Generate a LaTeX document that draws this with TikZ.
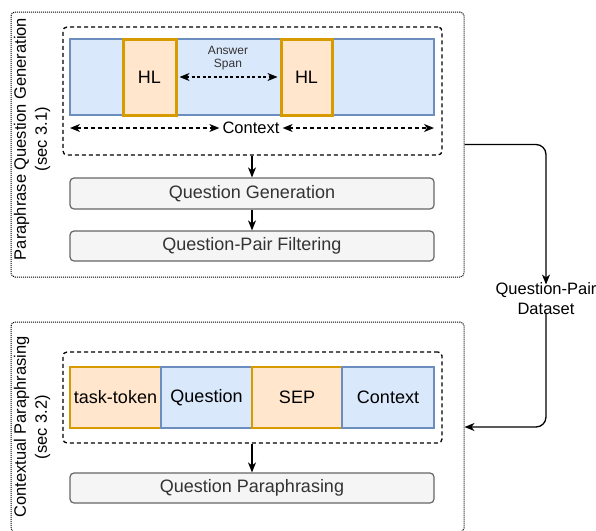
\documentclass[tikz,border=0pt]{standalone}
\usepackage{fontspec}
\setmainfont{Liberation Sans}
\usetikzlibrary{arrows.meta}
\definecolor{bluefill}{HTML}{DAE8FC}
\definecolor{bluedraw}{HTML}{6C8EBF}
\definecolor{orfill}{HTML}{FFE6CC}
\definecolor{ordraw}{HTML}{D79B00}
\definecolor{gfill}{HTML}{F5F5F5}
\definecolor{gdraw}{HTML}{666666}
\definecolor{gtext}{HTML}{333333}
\newcommand{\fs}[1]{\fontsize{#1}{#1}\selectfont}
\tikzset{
  tip/.style={-{Stealth[length=10pt,width=8pt,inset=3pt]}},
  dtip/.style={{Stealth[length=10pt,width=8pt,inset=3pt]}-{Stealth[length=10pt,width=8pt,inset=3pt]}},
  outerbox/.style={draw, line width=1pt, dash pattern=on 1pt off 1pt, rounded corners=4pt, inner sep=0pt},
  groupbox/.style={draw, line width=1.3pt, dash pattern=on 4pt off 3pt, rounded corners=4pt, inner sep=0pt},
  bluebox/.style={draw=bluedraw, fill=bluefill, line width=1.2pt, inner sep=0pt, font=\fs{18}},
  orbox/.style={draw=ordraw, fill=orfill, line width=1.2pt, inner sep=0pt, font=\fs{18}},
  hlbox/.style={draw=ordraw, fill=orfill, line width=3pt, inner sep=0pt, font=\fs{18}},
  procbox/.style={draw=gdraw, fill=gfill, text=gtext, line width=1.2pt, rounded corners=4pt,
    minimum width=364pt, inner sep=0pt, font=\fs{18}},
  sidelabel/.style={rotate=90, align=center, font=\fontsize{16.5}{21}\selectfont, inner sep=0pt},
  conn/.style={line width=1.3pt}
}
\begin{document}
\begin{tikzpicture}[x=1pt,y=-1pt]
\useasboundingbox (0,0) rectangle (596,530);
% outer groups
\node[outerbox, minimum width=453pt, minimum height=265pt] (grp1) at (237.5,144.5) {};
\node[outerbox, minimum width=453pt, minimum height=210pt] (grp2) at (237.5,427) {};
\node[sidelabel] (lab1) at (32,139) {Paraphrase Question Generation\\(sec 3.1)};
\node[sidelabel] (lab2) at (32,427) {Contextual Paraphrasing\\(sec 3.2)};
% top dashed group
\node[groupbox, minimum width=379pt, minimum height=128pt] (dg1) at (252.5,91) {};
\node[bluebox, minimum width=364pt, minimum height=76pt] (ctx) at (252,77) {};
\node[hlbox, minimum width=53pt, minimum height=76pt] (hl1) at (149.5,77) {HL};
\node[hlbox, minimum width=51pt, minimum height=76pt] (hl2) at (306.5,77) {HL};
\node[align=center, font=\fontsize{12}{13}\selectfont, text=gtext, inner sep=0pt] (ans) at (228,58) {Answer\\Span};
\draw[conn, dtip, line width=1.2pt, dash pattern=on 3pt off 2.5pt] (hl1.east) ++(2,0) coordinate (a1) -- ([xshift=-2pt]hl2.west);
\node[font=\fs{16.5}, inner sep=0pt] (ctxlab) at (251,128) {Context};
\coordinate (cl) at (70,128);
\coordinate (cr) at (434,128);
\draw[conn, dtip, dash pattern=on 4pt off 3pt] (cl) -- ([xshift=-3pt]ctxlab.west);
\draw[conn, dtip, dash pattern=on 4pt off 3pt] ([xshift=3pt]ctxlab.east) -- (cr);
% process boxes
\node[procbox, minimum height=31pt] (qg) at (252,193.5) {Question Generation};
\node[procbox, minimum height=30pt] (qpf) at (252,246) {Question-Pair Filtering};
\draw[conn, tip] (dg1.south -| qg.north) -- (qg.north);
\draw[conn, tip] (qg.south) -- (qpf.north);
% bottom dashed group
\node[groupbox, minimum width=379pt, minimum height=91pt] (dg2) at (252.5,397.5) {};
\node[orbox, minimum width=91pt, minimum height=61pt] (tt) at (115.5,397.5) {task-token};
\node[bluebox, minimum width=91pt, minimum height=61pt] (tq) at (206.5,397.5) {Question};
\node[orbox, minimum width=90pt, minimum height=61pt] (ts) at (297,397.5) {SEP};
\node[bluebox, minimum width=92pt, minimum height=61pt] (tc) at (388,397.5) {Context};
\node[procbox, minimum height=30pt] (qp) at (252,488) {Question Paraphrasing};
\draw[conn, tip] (dg2.south -| qp.north) -- (qp.north);
% dataset connector
\node[align=center, font=\fontsize{16.5}{19.5}\selectfont, inner sep=0pt] (qpd) at (546,298.5) {Question-Pair\\Dataset};
\draw[conn, tip, rounded corners=10pt] (grp1.east) -| ([yshift=-2pt]qpd.north);
\draw[conn, tip, rounded corners=10pt] ([yshift=2pt]qpd.south) |- (grp2.east);
\end{tikzpicture}
\end{document}
